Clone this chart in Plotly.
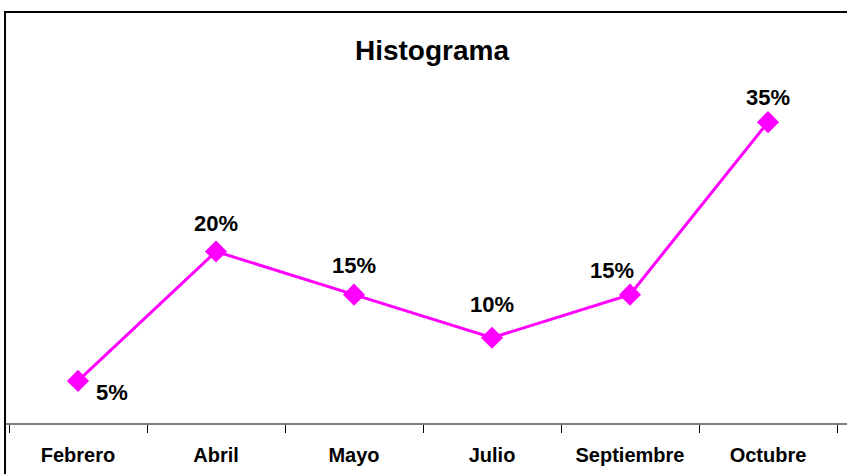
import plotly.graph_objects as go

months = ["Febrero", "Abril", "Mayo", "Julio", "Septiembre", "Octubre"]
values = [5, 20, 15, 10, 15, 35]
labels = ["5%", "20%", "15%", "10%", "15%", "35%"]

# label offsets (px) relative to each marker
dx = [34, 0, 0, 0, -18, 0]
dy = [-12, 28, 29, 33, 24, 25]

FONT = "Liberation Sans, Arial"

fig = go.Figure()
fig.add_trace(go.Scatter(
    x=months, y=values, mode="lines+markers",
    line=dict(color="#FF00FF", width=3),
    marker=dict(symbol="diamond", size=17, color="#FF00FF"),
    hoverinfo="skip", showlegend=False,
))

for m, v, t, ox, oy in zip(months, values, labels, dx, dy):
    fig.add_annotation(x=m, y=v, text="<b>" + t + "</b>", showarrow=False, xshift=ox, yshift=oy,
                       font=dict(family=FONT, size=22, color="black"))

fig.update_layout(
    width=847, height=474,
    margin=dict(l=9, r=10, t=79, b=50),
    paper_bgcolor="white", plot_bgcolor="white",
    title=dict(text="<b>Histograma</b>", x=0.51, xanchor="center", y=0.895, yanchor="middle",
               font=dict(family=FONT, size=28, color="black")),
    xaxis=dict(type="category", range=[-0.5, 5.5], tickson="boundaries", ticks="outside", ticklen=8,
               tickcolor="black", tickwidth=1, showgrid=False, showline=False,
               ticklabelstandoff=17,
               tickfont=dict(family=FONT, size=20, color="black"),
               tickprefix="<b>", ticksuffix="</b>", zeroline=False),
    yaxis=dict(range=[0, 40], visible=False, showgrid=False, zeroline=False),
    shapes=[
        dict(type="rect", xref="paper", yref="paper", x0=-0.0048, x1=1.1, y0=-0.5, y1=1.194,
             line=dict(color="black", width=2), fillcolor="rgba(0,0,0,0)", layer="below"),
        dict(type="line", xref="paper", yref="paper", x0=-0.0048, x1=1.1, y0=0, y1=0,
             line=dict(color="black", width=1)),
    ],
)

fig.write_html("out.html", config={"displayModeBar": False},
               post_script="document.body.style.margin='0px';document.body.style.overflow='hidden';")
